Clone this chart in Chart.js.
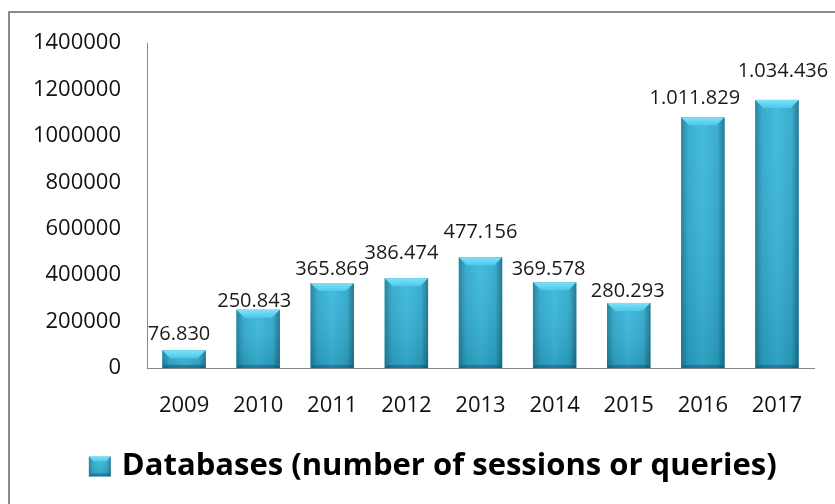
<!DOCTYPE html>
<html>
<head>
<meta charset="utf-8">
<script src="https://cdn.jsdelivr.net/npm/chart.js@4.4.0/dist/chart.umd.min.js"></script>
<style>
html, body { margin: 0; padding: 0; background: #ffffff; }
#frame { position: absolute; left: 8px; top: 11px; width: 900px; height: 600px;
	border: 2px solid #8a8a8a; box-sizing: border-box; }
#box { position: absolute; left: 0; top: 0; width: 835px; height: 504px; }
</style>
</head>
<body>
<div id="frame"></div>
<div id="box"><canvas id="chart" width="835" height="504"></canvas></div>
<script>
// ----------------------------------------------------------------------
//	databases chart
// ----------------------------------------------------------------------
const years = ["2009","2010","2011","2012","2013","2014","2015","2016","2017"]
const sessions = [76830,250843,365869,386474,477156,369578,280293,1080000,1155000]
const value_labels = ["76.830","250.843","365.869","386.474","477.156","369.578","280.293","1.011.829","1.034.436"]
const y_ticks = [0,200000,400000,600000,800000,1000000,1200000,1400000]
const series_name = "Databases (number of sessions or queries)"

// label nudges (px), kept apart from the data
const label_dx = [-5,-4,0,-5,0,-6,-1,-8,6]
const label_gap = [10,3,8,19,19,7,6,13,23]

const font_family = "'Open Sans', 'Noto Sans', sans-serif"
const legend_shift = 13.5

// ----------------------------------------------------------------------
function bevel_box (ctx,l,t,r,b,d)
{
	const g = ctx.createLinearGradient(l,0,r,0)
	g.addColorStop(0,'#1d7d99')
	g.addColorStop(0.16,'#2ea7ca')
	g.addColorStop(0.5,'#38b8dc')
	g.addColorStop(0.84,'#2ea7ca')
	g.addColorStop(1,'#1a7089')
	ctx.fillStyle = g
	ctx.fillRect(l,t,r-l,b-t)

	const v = ctx.createLinearGradient(0,t,0,b)
	v.addColorStop(0,'rgba(255,255,255,0.06)')
	v.addColorStop(1,'rgba(0,40,60,0.16)')
	ctx.fillStyle = v
	ctx.fillRect(l,t,r-l,b-t)

	// top facet
	ctx.beginPath()
	ctx.moveTo(l,t)
	ctx.lineTo(r,t)
	ctx.lineTo(r-d,t+d)
	ctx.lineTo(l+d,t+d)
	ctx.closePath()
	const tg = ctx.createLinearGradient(0,t,0,t+d)
	tg.addColorStop(0,'#7fe2f7')
	tg.addColorStop(1,'#4cc8e9')
	ctx.fillStyle = tg
	ctx.fill()

	// bottom facet
	const e = Math.min(3,d)
	ctx.beginPath()
	ctx.moveTo(l,b)
	ctx.lineTo(r,b)
	ctx.lineTo(r-e,b-e)
	ctx.lineTo(l+e,b-e)
	ctx.closePath()
	ctx.fillStyle = 'rgba(10,60,80,0.35)'
	ctx.fill()
}

// ----------------------------------------------------------------------
const bevel_plugin = {
	id: 'bevel',
	afterLayout (chart)
	{
		// centre the legend the way the reference does
		chart.legend.left += legend_shift
		chart.legend.right += legend_shift
	},
	afterDatasetsDraw (chart)
	{
		const ctx = chart.ctx
		ctx.save()
		chart.getDatasetMeta(0).data.forEach(bar =>
			{
			const p = bar.getProps(['x','y','base','width'],true)
			const l = p.x - p.width / 2
			const r = p.x + p.width / 2
			const d = Math.min(8,(p.base - p.y) / 2)
			bevel_box (ctx,l,p.y,r,p.base,d)
			})
		ctx.restore()
	},
	afterDraw (chart)
	{
		// legend swatch
		const ctx = chart.ctx
		const hb = chart.legend.legendHitBoxes[0]
		if (hb)
			{
			const top = hb.top + (hb.height - 20) / 2
			ctx.save()
			ctx.fillStyle = '#ffffff'
			ctx.fillRect(hb.left - 1,top - 1,16,22)
			bevel_box (ctx,hb.left - 3.5,top,hb.left + 18.5,top + 20,5)
			ctx.restore()
			}
	}
}

// ----------------------------------------------------------------------
const label_plugin = {
	id: 'value_labels',
	afterDatasetsDraw (chart)
	{
		const ctx = chart.ctx
		ctx.save()
		ctx.font = "20px " + font_family
		ctx.fillStyle = '#1a1a1a'
		ctx.textAlign = 'center'
		ctx.textBaseline = 'alphabetic'
		chart.getDatasetMeta(0).data.forEach((bar,it) =>
			{
			ctx.fillText (value_labels[it],bar.x + label_dx[it],bar.y - label_gap[it])
			})
		ctx.restore()
	}
}

// ----------------------------------------------------------------------
const graph_data = {
	labels: years,
	datasets: [
		{
		label: series_name,
		data: sessions,
		backgroundColor: '#33abd0',
		borderWidth: 0,
		barPercentage: 0.585,
		categoryPercentage: 1.0
		}
	]
}

const config = {
	type: 'bar',
	data: graph_data,
	plugins: [bevel_plugin,label_plugin],
	options: {
		responsive: false,
		animation: false,
		layout: { padding: { left: 28, right: 21, top: 43, bottom: 12 } },
		plugins: {
			tooltip: { enabled: false },
			legend: {
				position: 'bottom',
				labels: {
					boxWidth: 14,
					boxHeight: 20,
					padding: 10,
					color: '#000000',
					font: { family: font_family, size: 31, weight: 'bold' }
					}
				}
			},
		scales: {
			x: {
				grid: { display: false, drawTicks: false },
				border: { display: true, color: '#868686', width: 1 },
				ticks: {
					color: '#111111',
					padding: 25,
					font: { family: font_family, size: 22 }
					},
				afterFit: (scale) => { scale.height = 73 }
				},
			y: {
				min: 0,
				max: 1400000,
				grid: { display: false, drawTicks: false },
				border: { display: true, color: '#868686', width: 1 },
				ticks: {
					color: '#111111',
					padding: 26,
					font: { family: font_family, size: 22 },
					callback: (v) => String(v)
					},
				afterBuildTicks: (scale) => { scale.ticks = y_ticks.map(v => ({ value: v })) },
				afterFit: (scale) => { scale.width = 119 }
				}
			}
		}
}

const chart = new Chart(document.getElementById('chart'),config)
</script>
</body>
</html>
